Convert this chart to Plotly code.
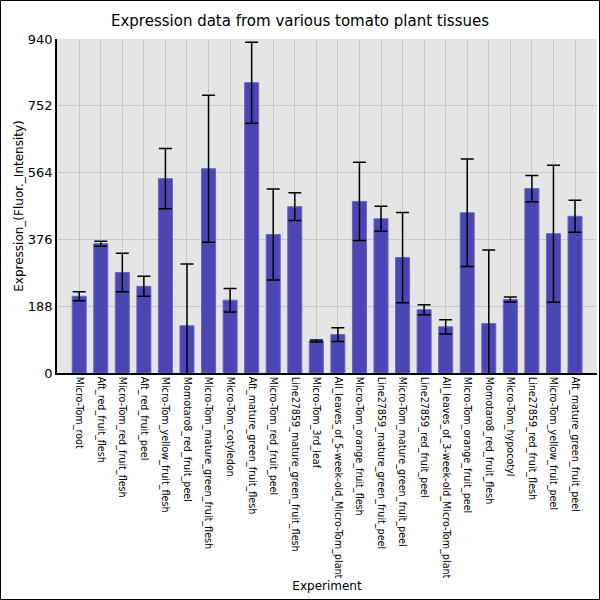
import plotly.graph_objects as go

experiments = [
    "Micro-Tom_root", "Aft_red_fruit_flesh", "Micro-Tom_red_fruit_flesh",
    "Aft_red_fruit_peel", "Micro-Tom_yellow_fruit_flesh", "Momotaro8_red_fruit_peel",
    "Micro-Tom_mature_green_fruit_flesh", "Micro-Tom_cotyledon",
    "Aft_mature_green_fruit_flesh", "Micro-Tom_red_fruit_peel",
    "Line27859_mature_green_fruit_flesh", "Micro-Tom_3rd_leaf",
    "All_leaves_of_5-week-old_Micro-Tom_plant", "Micro-Tom_orange_fruit_flesh",
    "Line27859_mature_green_fruit_peel", "Micro-Tom_mature_green_fruit_peel",
    "Line27859_red_fruit_peel", "All_leaves_of_3-week-old_Micro-Tom_plant",
    "Micro-Tom_orange_fruit_peel", "Momotaro8_red_fruit_flesh",
    "Micro-Tom_hypocotyl", "Line27859_red_fruit_flesh",
    "Micro-Tom_yellow_fruit_peel", "Aft_mature_green_fruit_peel",
]
expression = [216, 364, 283, 244, 547, 133, 575, 205, 817, 390, 468, 90,
              108, 483, 434, 325, 178, 130, 451, 139, 207, 519, 392, 441]
std_err = [13, 7, 54, 28, 85, 174, 207, 33, 114, 128, 39, 3,
           19, 110, 35, 127, 14, 20, 151, 207, 7, 37, 193, 45]
y_ticks = [0, 188, 376, 564, 752, 940]

bars = go.Bar(
    x=experiments, y=expression, width=0.65,
    marker=dict(color="#4B46B4", line=dict(color="#6A65C4", width=1)),
    error_y=dict(type="data", array=std_err, visible=True,
                 color="black", thickness=1.5, width=6.5),
)

fig = go.Figure(data=[bars])
fig.update_layout(
    width=600, height=600,
    margin=dict(l=57, r=3, t=39, b=227, autoexpand=False),
    paper_bgcolor="white", plot_bgcolor="#E5E5E5",
    font=dict(family="DejaVu Sans", color="black"),
    title=dict(text="Expression data from various tomato plant tissues",
               x=0.5, xanchor="center", y=0.966, yanchor="middle",
               font=dict(size=15)),
    showlegend=False,
)
fig.update_xaxes(
    title=dict(text="Experiment", font=dict(size=12), standoff=2),
    range=[-1.03, 24.02],
    tickangle=90, tickfont=dict(size=9.6), automargin=False,
    showgrid=True, gridcolor="#C8C8C8", gridwidth=1,
    showline=True, linecolor="black", linewidth=1.5,
)
fig.update_yaxes(
    title=dict(text="Expression_(Fluor._Intensity)", font=dict(size=12), standoff=2),
    range=[0, 940], tickvals=y_ticks, tickfont=dict(size=13), automargin=False,
    showgrid=True, gridcolor="#C8C8C8", gridwidth=1, zeroline=False,
    showline=True, linecolor="black", linewidth=1.5,
)
# thin frame round the whole picture
fig.add_shape(type="rect", xref="paper", yref="paper",
              x0=-56.5/540, x1=1 + 2.5/540, y0=-226.5/334, y1=1 + 38.5/334,
              line=dict(color="black", width=1), layer="above")

fig.write_html("out.html", config={"displayModeBar": False},
               post_script="document.body.style.margin='0';")
